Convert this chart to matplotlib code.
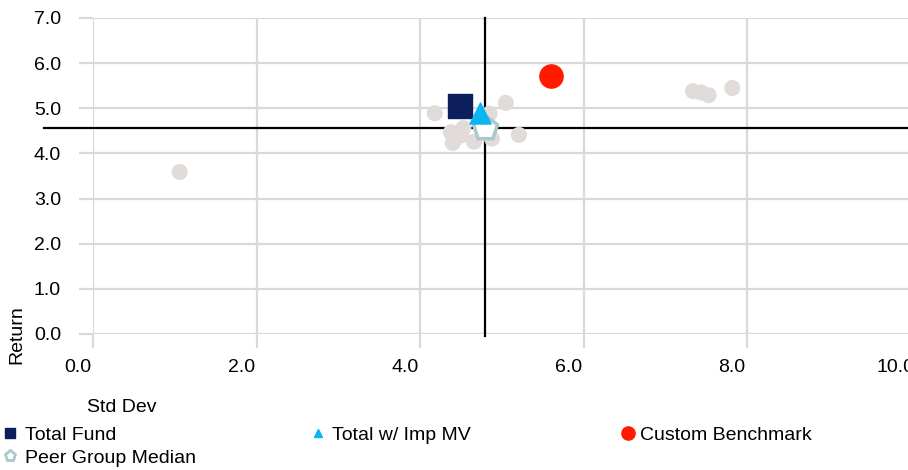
import matplotlib
matplotlib.use("Agg")
import matplotlib.pyplot as plt
import matplotlib.transforms as mtransforms
from matplotlib.lines import Line2D

plt.rcParams["font.family"] = ["Liberation Sans", "DejaVu Sans"]

# Peer universe (std dev, return)
peer_sd = [1.06, 4.18, 5.05, 5.21, 4.38, 4.53, 4.40, 4.66, 4.88, 4.85, 4.50, 7.34, 7.44, 7.53, 7.82]
peer_ret = [3.59, 4.89, 5.12, 4.41, 4.47, 4.56, 4.23, 4.26, 4.33, 4.88, 4.40, 5.38, 5.35, 5.29, 5.45]

# Highlighted portfolios
fund_sd, fund_ret = 4.49, 5.05
imp_sd, imp_ret = 4.73, 4.90
bench_sd, bench_ret = 5.60, 5.72
median_sd, median_ret = 4.80, 4.57

x_ticks = [0.0, 2.0, 4.0, 6.0, 8.0, 10.0]
y_ticks = [0.0, 1.0, 2.0, 3.0, 4.0, 5.0, 6.0, 7.0]

W, H, DPI = 908, 470, 100
FS = 14
fig = plt.figure(figsize=(W / DPI, H / DPI), dpi=DPI)
ax = fig.add_axes([93 / W, (H - 334) / H, (910.5 - 93) / W, (334 - 18) / H])

grid_c = "#d9d9d9"
ax.set_xlim(0, 10)
ax.set_ylim(0, 7)
ax.set_xticks(x_ticks)
ax.set_yticks(y_ticks)
ax.set_xticklabels([f"{v:.1f}" for v in x_ticks])
ax.set_yticklabels([f"{v:.1f}" for v in y_ticks])
ax.grid(True, color=grid_c, linewidth=1.6, zorder=0)
ax.set_axisbelow(True)
for s in ax.spines.values():
    s.set_visible(False)
ax.tick_params(axis="both", direction="out", length=10, width=1.6, color=grid_c,
               labelsize=FS, labelcolor="#000000")
ax.tick_params(axis="y", pad=13)
ax.tick_params(axis="x", pad=8)
shift = mtransforms.ScaledTranslation(-15 / DPI, 0, fig.dpi_scale_trans)
for lbl in ax.get_xticklabels():
    lbl.set_transform(lbl.get_transform() + shift)

# Median crosshair
ax.plot([median_sd, median_sd], [-0.04, 7.0], color="black", linewidth=1.6,
        zorder=2, clip_on=False)
ax.plot([-0.6, 10.0], [median_ret, median_ret], color="black", linewidth=1.6,
        zorder=2, clip_on=False)

ax.scatter(peer_sd, peer_ret, s=135, color="#e1dcda", edgecolors="none", zorder=3)
ax.scatter([median_sd], [median_ret], marker="p", s=330, facecolor="white",
           edgecolor="#a9c9cd", linewidth=2.5, zorder=4)
ax.scatter([fund_sd], [fund_ret], marker="s", s=300, color="#0c1f5c", zorder=5)
ax.scatter([imp_sd], [imp_ret], marker="^", s=230, color="#0db4f0", zorder=6)
ax.scatter([bench_sd], [bench_ret], marker="o", s=280, color="#ff1a00", zorder=5)

# Axis titles
fig.text(17 / W, 1 - 335 / H, "Return", rotation=90, ha="center", va="center", fontsize=FS)
fig.text(122 / W, 1 - 408 / H, "Std Dev", ha="center", va="center", fontsize=FS)

# Legend entries
entries = [
    (Line2D([], [], marker="s", linestyle="none", color="#0c1f5c", markersize=7),
     "Total Fund", 3, 435, 0.41),
    (Line2D([], [], marker="^", linestyle="none", color="#0db4f0", markersize=6),
     "Total w/ Imp MV", 311, 435, 0.36),
    (Line2D([], [], marker="o", linestyle="none", color="#ff1a00", markersize=9.5),
     "Custom Benchmark", 621, 435, 0.26),
    (Line2D([], [], marker="p", linestyle="none", markerfacecolor="white",
            markeredgecolor="#a9c9cd", markeredgewidth=2, markersize=8),
     "Peer Group Median", 3, 458, 0.41),
]
for handle, label, px, py, pad in entries:
    fig.legend(handles=[handle], labels=[label], loc="center left",
               bbox_to_anchor=(px / W, 1 - py / H), frameon=False, fontsize=FS,
               handlelength=0.72, handletextpad=pad, borderpad=0, borderaxespad=0)

fig.savefig("out.png", dpi=DPI)
